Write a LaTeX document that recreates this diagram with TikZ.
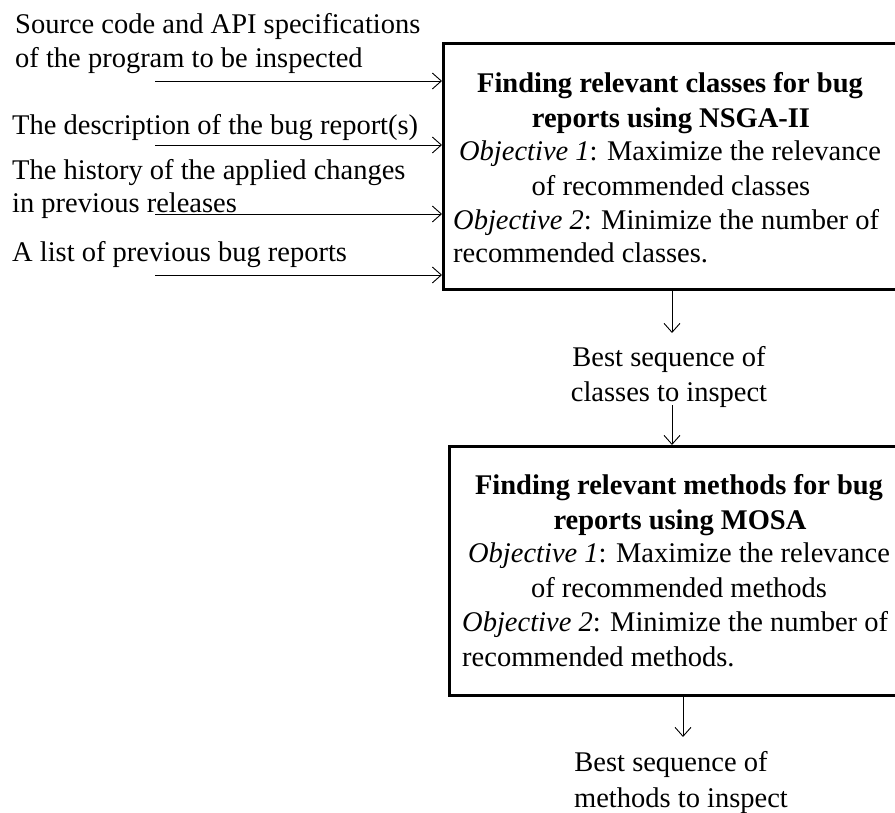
\documentclass[tikz,border=0pt]{standalone}
\usepackage{fontspec}
\setmainfont{Liberation Serif}
\usetikzlibrary{arrows.meta}
\tikzset{
  every node/.style={font=\fontsize{28.5}{35}\selectfont, inner sep=0pt},
  ln/.style={text height=19pt, text depth=6pt, yshift=-3pt},
  hd/.style={ln, font=\fontsize{28.5}{35}\selectfont\bfseries},
  box/.style={draw, line width=3pt, rectangle, anchor=north west},
  arr/.style={draw, line width=0.9pt, -{Straight Barb[length=9pt,width=16pt,line width=0.9pt]}},
}
\begin{document}
\begin{tikzpicture}[x=1pt,y=-1pt]
\useasboundingbox (0,0) rectangle (895,813);
\clip (0,0) rectangle (895,813);
% boxes
\node[box, minimum width=458pt, minimum height=246pt] (b1) at (442,42) {};
\node[box, minimum width=452pt, minimum height=249pt] (b2) at (448,445) {};
% box 1 text
\node[hd] (t1a) at (670,83) {Finding relevant classes for bug};
\node[hd] (t1b) at (671,118) {reports using NSGA-II};
\node[ln] (t1c) at (670,151) {\textit{Objective 1}: Maximize the relevance};
\node[ln] (t1d) at (671,186) {of recommended classes};
\node[ln, anchor=west] (t1e) at (453,220) {\textit{Objective 2}: Minimize the number of};
\node[ln, anchor=west] (t1f) at (453,253) {recommended classes.};
% box 2 text
\node[hd] (t2a) at (679,485) {Finding relevant methods for bug};
\node[hd] (t2b) at (680,520) {reports using MOSA};
\node[ln] (t2c) at (679,553) {\textit{Objective 1}: Maximize the relevance};
\node[ln] (t2d) at (679,588) {of recommended methods};
\node[ln, anchor=west] (t2e) at (462,622) {\textit{Objective 2}: Minimize the number of};
\node[ln, anchor=west] (t2f) at (462,657) {recommended methods.};
% left input texts
\node[ln, anchor=west] (i1a) at (15,24) {Source code and API specifications};
\node[ln, anchor=west] (i1b) at (15,58) {of the program to be inspected};
\node[ln, anchor=west] (i2) at (12,125) {The description of the bug report(s)};
\node[ln, anchor=west] (i3a) at (12,170) {The history of the applied changes};
\node[ln, anchor=west] (i3b) at (12,203) {in previous releases};
\node[ln, anchor=west] (i4) at (12,252) {A list of previous bug reports};
% input arrows
\coordinate (s1) at (155,81);
\coordinate (s2) at (155,145);
\coordinate (s3) at (155,214);
\coordinate (s4) at (155,275);
\foreach \s in {s1,s2,s3,s4} \draw[arr] (\s) -- (\s -| b1.west);
% middle label
\node[ln] (m1a) at (669,357) {Best sequence of};
\node[ln] (m1b) at (669,392) {classes to inspect};
\coordinate (c1) at (672,333);
\coordinate (c2) at (672,405);
\draw[arr] (b1.south -| c1) -- (c1);
\draw[arr] (c2) -- (c2 |- b2.north);
% bottom label
\node[ln] (m2a) at (671,762) {Best sequence of};
\node[ln] (m2b) at (681,798) {methods to inspect};
\coordinate (c3) at (683,737);
\draw[arr] (b2.south -| c3) -- (c3);
\end{tikzpicture}
\end{document}
